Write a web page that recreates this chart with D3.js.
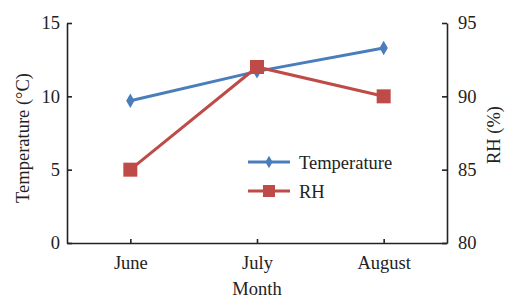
<!DOCTYPE html>
<html>
<head>
<meta charset="utf-8">
<script src="https://cdn.jsdelivr.net/npm/d3@7"></script>
<style>
  body { margin: 0; background: #fff; }
</style>
</head>
<body>
<svg width="506" height="298"></svg>
<script>
const months = ["June", "July", "August"];
const temperature = [9.7, 11.7, 13.3];
const rh = [85, 92, 90];
const tempTicks = [0, 5, 10, 15];
const rhTicks = [80, 85, 90, 95];

const blue = "#4a7ebb";
const red = "#be4b48";
const fontSize = 18.5;
const serif = "'Times New Roman', 'Liberation Serif', Times, serif";

const margin = { left: 67, right: 59, top: 23, bottom: 55 };
const width = 506, height = 298;

const svg = d3.select("svg").attr("font-family", serif);

const x = d3.scalePoint().domain(months)
  .range([margin.left, width - margin.right]).padding(0.5);
const yT = d3.scaleLinear().domain([0, 15])
  .range([height - margin.bottom, margin.top]);
const yR = d3.scaleLinear().domain([80, 95])
  .range([height - margin.bottom, margin.top]);

function styleAxis(g)
{
  g.attr("font-family", serif).attr("font-size", fontSize);
  g.selectAll("path,line").attr("stroke", "#222").attr("stroke-width", 1.6);
  g.selectAll("text").attr("fill", "#222");
}

svg.append("g")
  .attr("transform", `translate(0,${ height - margin.bottom })`)
  .call(d3.axisBottom(x).tickSize(-4).tickSizeOuter(0).tickPadding(13))
  .call(styleAxis);

svg.append("g")
  .attr("transform", `translate(${ margin.left },0)`)
  .call(d3.axisLeft(yT).tickValues(tempTicks).tickSize(-5).tickSizeOuter(0).tickPadding(7))
  .call(styleAxis);

svg.append("g")
  .attr("transform", `translate(${ width - margin.right },0)`)
  .call(d3.axisRight(yR).tickValues(rhTicks).tickSize(-5).tickSizeOuter(0).tickPadding(11))
  .call(styleAxis);

// axis titles
svg.append("text")
  .attr("transform", "translate(29,138) rotate(-90)")
  .attr("text-anchor", "middle")
  .attr("font-size", fontSize)
  .attr("fill", "#222")
  .text("Temperature (°C)");

svg.append("text")
  .attr("transform", "translate(500,135) rotate(-90)")
  .attr("text-anchor", "middle")
  .attr("font-size", fontSize)
  .attr("fill", "#222")
  .text("RH (%)");

svg.append("text")
  .attr("x", x("July"))
  .attr("y", 295)
  .attr("text-anchor", "middle")
  .attr("font-size", fontSize)
  .attr("fill", "#222")
  .text("Month");

const tempData = months.map((m, i) => [m, temperature[i]]);
const rhData = months.map((m, i) => [m, rh[i]]);

const diamond = d3.symbol().type(d3.symbolDiamond).size(60);

svg.append("path")
  .datum(tempData)
  .attr("fill", "none")
  .attr("stroke", blue)
  .attr("stroke-width", 3)
  .attr("d", d3.line().x((d) => x(d[0])).y((d) => yT(d[1])));

svg.append("path")
  .datum(rhData)
  .attr("fill", "none")
  .attr("stroke", red)
  .attr("stroke-width", 3)
  .attr("d", d3.line().x((d) => x(d[0])).y((d) => yR(d[1])));

svg.selectAll(".tmark")
  .data(tempData)
  .enter()
  .append("path")
  .attr("class", "tmark")
  .attr("transform", (d) => `translate(${ x(d[0]) },${ yT(d[1]) })`)
  .attr("d", diamond)
  .attr("fill", blue);

svg.selectAll(".rmark")
  .data(rhData)
  .enter()
  .append("rect")
  .attr("class", "rmark")
  .attr("x", (d) => x(d[0]) - 7)
  .attr("y", (d) => yR(d[1]) - 7)
  .attr("width", 14)
  .attr("height", 14)
  .attr("fill", red);

// legend
const legend = svg.append("g").attr("transform", "translate(248,162)");
[["Temperature", blue, "d"], ["RH", red, "s"]].forEach((item, i) =>
{
  const row = legend.append("g").attr("transform", `translate(0,${ i * 29 })`);
  row.append("line")
    .attr("x1", 0).attr("x2", 42)
    .attr("stroke", item[1]).attr("stroke-width", 3);
  if (item[2] === "d")
  {
    row.append("path").attr("transform", "translate(21,0)")
      .attr("d", d3.symbol().type(d3.symbolDiamond).size(45)).attr("fill", item[1]);
  } else
  {
    row.append("rect").attr("x", 15).attr("y", -6)
      .attr("width", 12).attr("height", 12).attr("fill", item[1]);
  }
  row.append("text")
    .attr("x", 51).attr("y", 6.5)
    .attr("font-size", fontSize)
    .attr("fill", "#222")
    .text(item[0]);
});
</script>
</body>
</html>
